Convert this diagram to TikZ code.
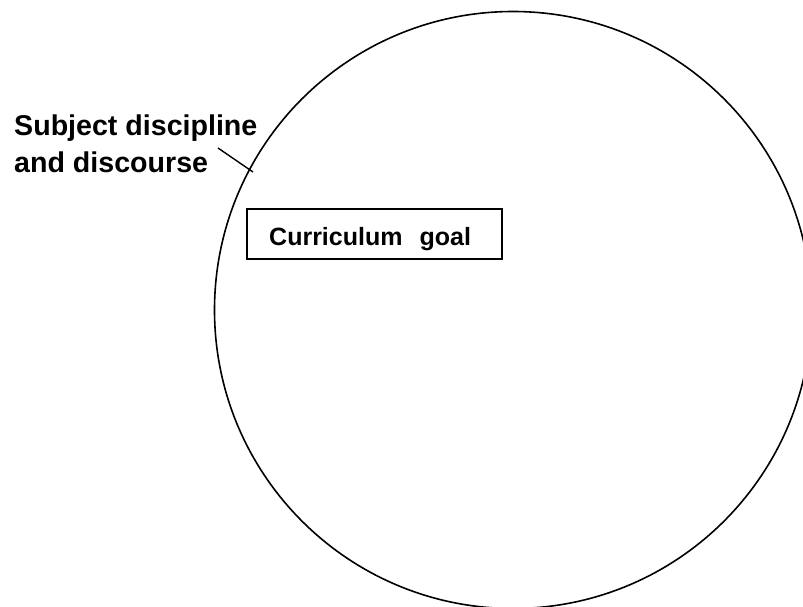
\documentclass[tikz,border=0pt]{standalone}
\usepackage{fontspec}
\setmainfont{Liberation Sans}
\begin{document}
\begin{tikzpicture}[x=1pt,y=-1pt,
  lbl/.style={font=\bfseries\fontsize{28.6}{37}\selectfont, align=left, inner sep=0pt, anchor=base west},
  goalbox/.style={draw, line width=1.6pt, minimum width=255pt, minimum height=50pt, inner sep=0pt},
  ring/.style={draw, circle, line width=1.6pt, minimum size=597pt, inner sep=0pt}]
\useasboundingbox (0,0) rectangle (803,606);
\clip (0,0) rectangle (803,606);
\fill[white] (0,0) rectangle (803,606);
\node[ring] (disc) at (513,310) {};
\node[lbl] (t1) at (14,135) {Subject discipline};
\node[lbl] (t2) at (14,172) {and discourse};
\coordinate (p1) at (218,148);
\coordinate (p2) at (253,172);
\draw[line width=1.4pt] (p1) -- (p2);
\node[goalbox] (goal) at (374.5,234) {};
\node[font=\bfseries\fontsize{25}{30}\selectfont, inner sep=0pt, anchor=base west] (gl) at (269,245) {Curriculum\hspace{17pt}goal};
\end{tikzpicture}
\end{document}
